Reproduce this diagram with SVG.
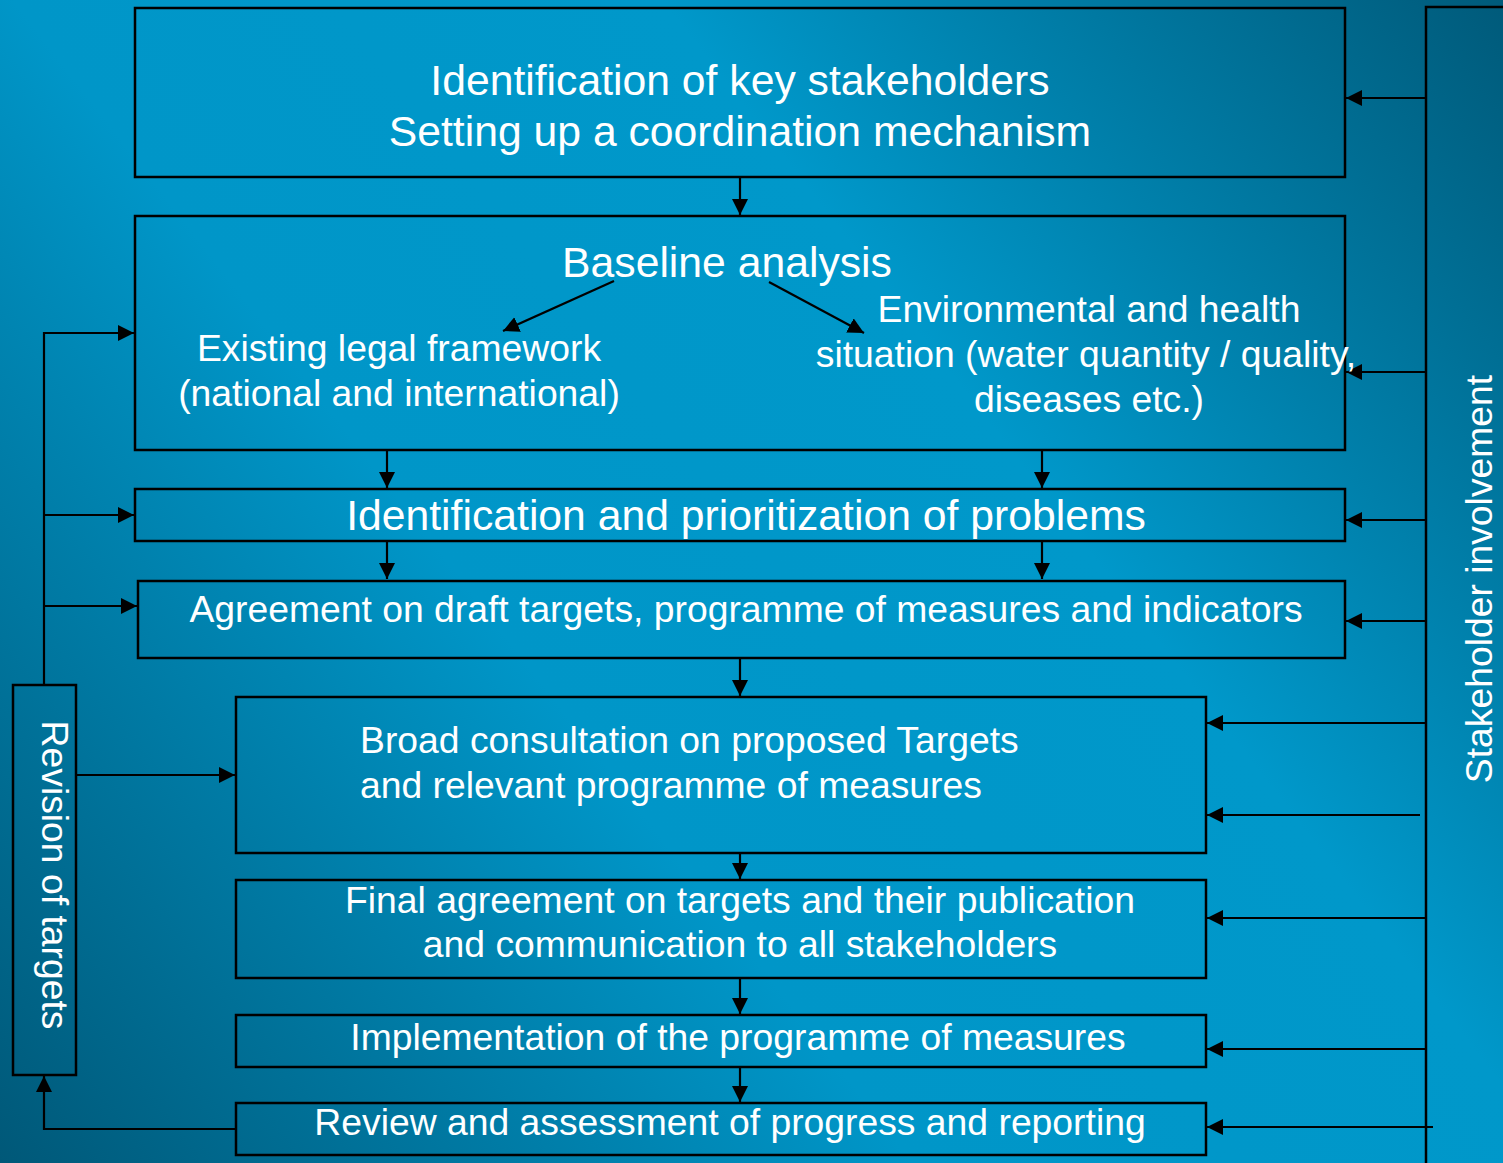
<svg xmlns="http://www.w3.org/2000/svg" width="1503" height="1163" viewBox="0 0 1503 1163">
<defs>
<linearGradient id="bg" gradientUnits="userSpaceOnUse" x1="1503" y1="0" x2="0" y2="1163">
<stop offset="0" stop-color="#005a7a"/>
<stop offset="0.35" stop-color="#0098ca"/>
<stop offset="0.62" stop-color="#0096c8"/>
<stop offset="1" stop-color="#005878"/>
</linearGradient>
<marker id="ah" markerUnits="userSpaceOnUse" markerWidth="16" markerHeight="16" viewBox="0 0 15 15" refX="15" refY="7.5" orient="auto">
<path d="M0,0 L15,7.5 L0,15 Z" fill="#000"/>
</marker>
<style>
.box{fill:none;stroke:#000;stroke-width:2.5}
.c{fill:none;stroke:#000;stroke-width:2.2}
.a{marker-end:url(#ah)}
text{font-family:"Liberation Sans",Arial,sans-serif;fill:#fff}
.l{font-size:42.7px}
.m{font-size:37.3px}
.mid{text-anchor:middle}
</style>
</defs>
<rect width="1503" height="1163" fill="url(#bg)"/>

<g id="connectors">
<line class="c a" x1="740" y1="177" x2="740" y2="215"/>
<line class="c a" x1="614" y1="281" x2="503" y2="331"/>
<line class="c a" x1="769" y1="282" x2="864" y2="333"/>
<line class="c a" x1="387" y1="450" x2="387" y2="488"/>
<line class="c a" x1="1042" y1="450" x2="1042" y2="488"/>
<line class="c a" x1="387" y1="541" x2="387" y2="579"/>
<line class="c a" x1="1042" y1="541" x2="1042" y2="579"/>
<line class="c a" x1="740" y1="658" x2="740" y2="696"/>
<line class="c a" x1="740" y1="853" x2="740" y2="879"/>
<line class="c a" x1="740" y1="978" x2="740" y2="1014"/>
<line class="c a" x1="740" y1="1067" x2="740" y2="1102"/>
<polyline class="c a" points="44,685 44,333 134,333"/>
<line class="c a" x1="44" y1="515" x2="134" y2="515"/>
<line class="c a" x1="44" y1="606" x2="137" y2="606"/>
<line class="c a" x1="76" y1="775" x2="235" y2="775"/>
<polyline class="c a" points="236,1129 44,1129 44,1076"/>
<line class="c a" x1="1426" y1="98" x2="1346" y2="98"/>
<line class="c a" x1="1426" y1="372" x2="1346" y2="372"/>
<line class="c a" x1="1426" y1="520" x2="1346" y2="520"/>
<line class="c a" x1="1426" y1="621" x2="1346" y2="621"/>
<line class="c a" x1="1426" y1="723" x2="1207" y2="723"/>
<line class="c a" x1="1420" y1="815" x2="1207" y2="815"/>
<line class="c a" x1="1426" y1="918" x2="1207" y2="918"/>
<line class="c a" x1="1426" y1="1049" x2="1207" y2="1049"/>
<line class="c a" x1="1433" y1="1127" x2="1207" y2="1127"/>
</g>

<g id="n1">
<rect class="box" x="135" y="8" width="1210" height="169"/>
<text class="l mid" x="740" y="95">Identification of key stakeholders</text>
<text class="l mid" x="740" y="146">Setting up a coordination mechanism</text>
</g>
<g id="n2">
<rect class="box" x="135" y="216" width="1210" height="234"/>
<text class="l mid" x="727" y="277">Baseline analysis</text>
<text class="m mid" x="399" y="361">Existing legal framework</text>
<text class="m mid" x="399" y="406">(national and international)</text>
<text class="m mid" x="1089" y="322">Environmental and health</text>
<text class="m mid" x="1086" y="367">situation (water quantity / quality,</text>
<text class="m mid" x="1089" y="412">diseases etc.)</text>
</g>
<g id="n3">
<rect class="box" x="135" y="489" width="1210" height="52"/>
<text class="l mid" x="746" y="530">Identification and prioritization of problems</text>
</g>
<g id="n4">
<rect class="box" x="138" y="581" width="1207" height="77"/>
<text class="m mid" x="746" y="622">Agreement on draft targets, programme of measures and indicators</text>
</g>
<g id="n5">
<rect class="box" x="236" y="697" width="970" height="156"/>
<text class="m" x="360" y="753">Broad consultation on proposed Targets</text>
<text class="m" x="360" y="798">and relevant programme of measures</text>
</g>
<g id="n6">
<rect class="box" x="236" y="880" width="970" height="98"/>
<text class="m mid" x="740" y="913">Final agreement on targets and their publication</text>
<text class="m mid" x="740" y="957">and communication to all stakeholders</text>
</g>
<g id="n7">
<rect class="box" x="236" y="1015" width="970" height="52"/>
<text class="m mid" x="738" y="1050">Implementation of the programme of measures</text>
</g>
<g id="n8">
<rect class="box" x="236" y="1103" width="970" height="52"/>
<text class="m mid" x="730" y="1135">Review and assessment of progress and reporting</text>
</g>
<g id="revision">
<rect class="box" x="13" y="685" width="63" height="390"/>
<text class="m mid" transform="translate(42,875) rotate(90)">Revision of targets</text>
</g>
<g id="stakeholder">
<rect class="box" x="1426" y="7" width="120" height="1200"/>
<text class="m mid" transform="translate(1492,579) rotate(-90)">Stakeholder involvement</text>
</g>
</svg>
